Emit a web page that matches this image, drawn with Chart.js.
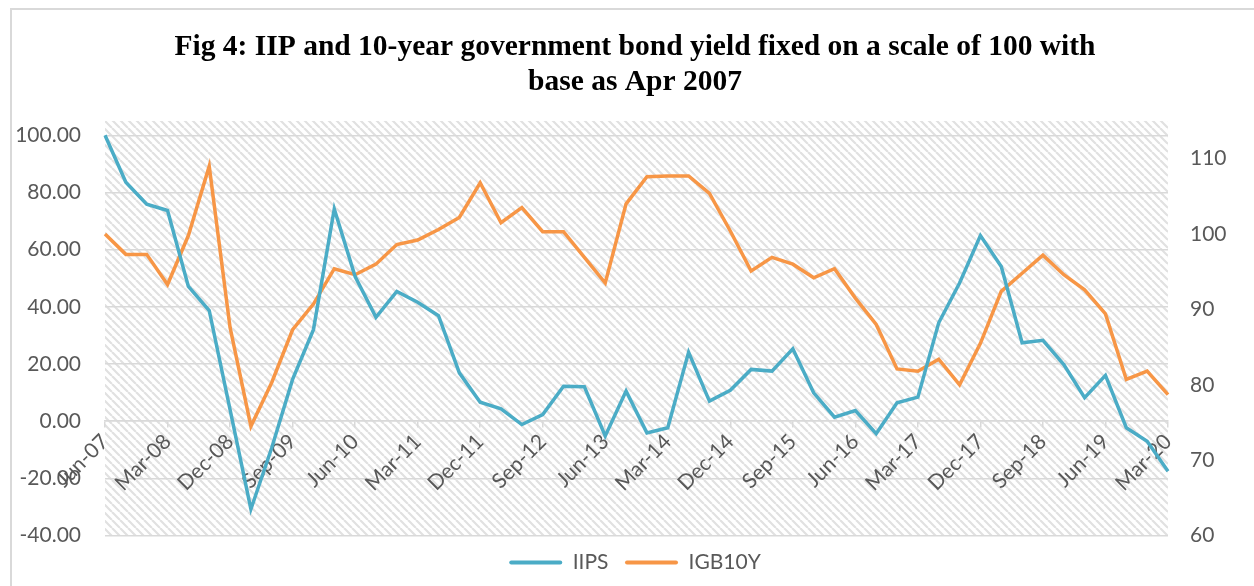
<!DOCTYPE html>
<html>
<head>
<meta charset="utf-8">
<script src="https://cdn.jsdelivr.net/npm/chart.js@4.4.1/dist/chart.umd.min.js"></script>
<style>
  html, body { margin: 0; padding: 0; background: #fff; overflow: hidden; }
  #frame { position: absolute; left: 10px; top: 8px; width: 1300px; height: 700px; border: 2px solid #d9d9d9; }
  #chart { position: absolute; left: 0; top: 0; }
</style>
</head>
<body>
<div id="frame"></div>
<canvas id="chart" width="1254" height="586"></canvas>
<script>
// quarterly observations, Jun-07 .. Mar-20
var quarters = [
  'Jun-07', 'Sep-07', 'Dec-07',
  'Mar-08', 'Jun-08', 'Sep-08', 'Dec-08',
  'Mar-09', 'Jun-09', 'Sep-09', 'Dec-09',
  'Mar-10', 'Jun-10', 'Sep-10', 'Dec-10',
  'Mar-11', 'Jun-11', 'Sep-11', 'Dec-11',
  'Mar-12', 'Jun-12', 'Sep-12', 'Dec-12',
  'Mar-13', 'Jun-13', 'Sep-13', 'Dec-13',
  'Mar-14', 'Jun-14', 'Sep-14', 'Dec-14',
  'Mar-15', 'Jun-15', 'Sep-15', 'Dec-15',
  'Mar-16', 'Jun-16', 'Sep-16', 'Dec-16',
  'Mar-17', 'Jun-17', 'Sep-17', 'Dec-17',
  'Mar-18', 'Jun-18', 'Sep-18', 'Dec-18',
  'Mar-19', 'Jun-19', 'Sep-19', 'Dec-19',
  'Mar-20'
];

// IIP (left axis)
var iips = [
  100.0, 83.6, 75.9,
  73.7, 47.1, 38.7, 4.0,
  -30.8, -9.3, 14.6, 32.0,
  74.2, 50.6, 36.3, 45.4,
  41.6, 36.9, 16.9, 6.6,
  4.3, -1.2, 2.3, 12.2,
  12.0, -5.2, 10.5, -4.1,
  -2.3, 24.1, 7.0, 10.8,
  18.1, 17.5, 25.3, 9.9,
  1.4, 3.7, -4.4, 6.4,
  8.4, 34.4, 48.3, 64.9,
  54.1, 27.4, 28.3, 19.8,
  8.2, 16.0, -2.3, -7.0,
  -17.5
];

// 10-year G-sec yield, Apr 2007 = 100 (right axis)
var igb10y = [
  100.0, 97.3, 97.3,
  93.3, 99.8, 109.0, 87.6,
  74.5, 80.3, 87.3, 90.7,
  95.4, 94.6, 96.0, 98.6,
  99.2, 100.6, 102.2, 106.8,
  101.5, 103.5, 100.3, 100.3,
  96.9, 93.5, 104.0, 107.6,
  107.7, 107.7, 105.4, 100.4,
  95.1, 96.9, 96.0, 94.2,
  95.4, 91.5, 88.0, 82.1,
  81.8, 83.4, 80.0, 85.5,
  92.4, 94.8, 97.2, 94.6,
  92.6, 89.4, 80.7, 81.8,
  78.7
];

var leftTicks = [-40, -20, 0, 20, 40, 60, 80, 100];
var rightTicks = [60, 70, 80, 90, 100, 110];

var teal = '#4BACC6';
var orange = '#F79646';
var textGrey = '#595959';
var gridGrey = '#d9d9d9';
var axisFont = { family: 'Lato', size: 21 };

// diagonal hatch behind the plot
function makeHatch(ctx) {
  var tile = document.createElement('canvas');
  tile.width = 8;
  tile.height = 8;
  var g = tile.getContext('2d');
  g.strokeStyle = '#e1e1e1';
  g.lineWidth = 2.2;
  g.beginPath();
  [-8, 0, 8].forEach(function (k) {
    g.moveTo(k, 0);
    g.lineTo(k + 8, 8);
  });
  g.stroke();
  return ctx.createPattern(tile, 'repeat');
}

var plotFill = {
  id: 'plotFill',
  beforeDraw: function (chart) {
    var a = chart.chartArea;
    var ctx = chart.ctx;
    ctx.save();
    ctx.fillStyle = makeHatch(ctx);
    ctx.fillRect(a.left, a.top, a.right - a.left, a.bottom - a.top);
    ctx.restore();
  }
};

var ctx = document.getElementById('chart');

var myChart = new Chart(ctx, {
  type: 'line',
  data: {
    labels: quarters,
    datasets: [{
      label: 'IIPS',
      data: iips,
      yAxisID: 'y',
      borderColor: teal,
      backgroundColor: teal,
      borderWidth: 3.5,
      pointRadius: 0,
      tension: 0
    }, {
      label: 'IGB10Y',
      data: igb10y,
      yAxisID: 'y2',
      borderColor: orange,
      backgroundColor: orange,
      borderWidth: 3.5,
      pointRadius: 0,
      tension: 0
    }]
  },
  options: {
    responsive: false,
    animation: false,
    layout: { padding: { left: 16, right: 0, top: 0, bottom: 3 } },
    scales: {
      x: {
        position: { y: 0 },
        offset: false,
        grid: { drawOnChartArea: false, drawTicks: true, tickLength: 6, color: gridGrey, lineWidth: 1.5 },
        border: { display: true, color: gridGrey, width: 1.5 },
        ticks: {
          autoSkip: false,
          maxRotation: 45,
          minRotation: 45,
          color: textGrey,
          font: axisFont,
          padding: 2
        },
        afterBuildTicks: function (scale) {
          scale.ticks = scale.ticks.filter(function (t) { return t.value % 3 === 0; });
        }
      },
      y: {
        position: 'left',
        min: -40,
        max: 105,
        afterBuildTicks: function (scale) {
          scale.ticks = leftTicks.map(function (v) { return { value: v }; });
        },
        afterFit: function (scale) { scale.width = 89; },
        ticks: {
          color: textGrey,
          font: axisFont,
          padding: 24,
          callback: function (v) { return v.toFixed(2); }
        },
        grid: { color: gridGrey, lineWidth: 1.5, drawTicks: false },
        border: { display: false }
      },
      y2: {
        position: 'right',
        min: 60,
        max: 115,
        afterBuildTicks: function (scale) {
          scale.ticks = rightTicks.map(function (v) { return { value: v }; });
        },
        afterFit: function (scale) { scale.width = 86; },
        ticks: { color: textGrey, font: axisFont, padding: 22 },
        grid: { drawOnChartArea: false, drawTicks: false },
        border: { display: false }
      }
    },
    plugins: {
      title: {
        display: true,
        text: ['Fig 4: IIP and 10-year government bond yield fixed on a scale of 100 with', 'base as Apr 2007'],
        color: '#000',
        font: { family: 'Liberation Serif', size: 29.5, weight: 'bold', lineHeight: 1.186 },
        padding: { top: 29.5, bottom: 21.5 }
      },
      legend: {
        position: 'bottom',
        labels: {
          boxWidth: 53,
          boxHeight: 4,
          padding: 16.5,
          color: textGrey,
          font: axisFont,
          useBorderRadius: true,
          borderRadius: 2,
          generateLabels: function (chart) {
            return Chart.defaults.plugins.legend.labels.generateLabels(chart).map(function (item) {
              item.lineWidth = 0;
              return item;
            });
          }
        }
      },
      tooltip: { enabled: false }
    }
  },
  plugins: [plotFill]
});
</script>
</body>
</html>
